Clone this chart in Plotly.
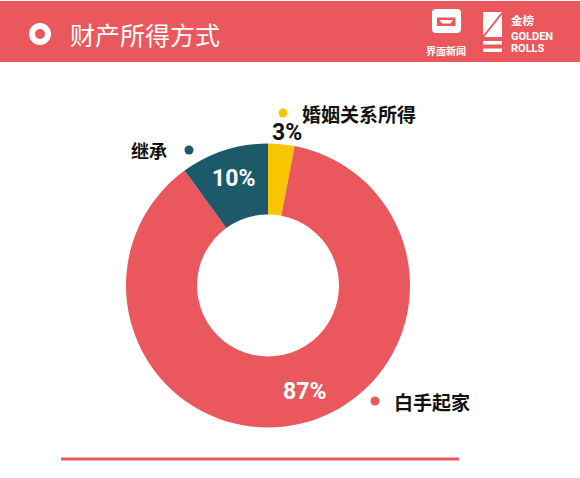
import math
import plotly.graph_objects as go

W, H = 580, 478

# ---- data ----
categories = ["婚姻关系所得", "白手起家", "继承"]
values = [3, 87, 10]
pct_labels = ["3%", "87%", "10%"]
colors = ["#F7C600", "#EA585D", "#1C5A6A"]
title = "财产所得方式"

RED = "#EA585D"

def px(x):
    return x / W

def py(y):
    return 1 - y / H

# pie geometry (pixels)
cx, cy, R = 268, 285.5, 142
hole = 0.5

fig = go.Figure()
fig.add_trace(go.Pie(
    labels=categories, values=values, sort=False, direction="clockwise",
    rotation=0, hole=hole, textinfo="none", hoverinfo="label+percent",
    marker=dict(colors=colors, line=dict(width=0)),
    domain=dict(x=[px(cx - R), px(cx + R)], y=[py(cy + R), py(cy - R)]),
    showlegend=False,
))

annotations = []
shapes = []

# percentage labels derived from slice mid-angles
total = sum(values)
start = 0.0
label_radius = [R + 12, (R * hole + R) / 2 + 2, (R * hole + R) / 2 + 6]
label_color = ["#111111", "white", "white"]
label_xshift = [5, 13, 0]
for i, v in enumerate(values):
    frac = v / total
    mid = (start + frac / 2) * 2 * math.pi
    start += frac
    r = label_radius[i]
    x = cx + r * math.sin(mid)
    y = cy - r * math.cos(mid)
    annotations.append(dict(
        x=px(x), y=py(y), xref="paper", yref="paper", showarrow=False,
        xshift=label_xshift[i],
        text="<b>%s</b>" % pct_labels[i],
        font=dict(family="Roboto, Arial, sans-serif", size=23, color=label_color[i]),
        xanchor="center", yanchor="middle",
    ))

# category labels with dots
cat_pos = [(283, 113, "left"), (375, 401, "left"), (189, 150, "right")]
for i, (dx, dy, side) in enumerate(cat_pos):
    shapes.append(dict(type="circle", xref="paper", yref="paper",
                       x0=px(dx - 4.5), x1=px(dx + 4.5), y0=py(dy + 4.5), y1=py(dy - 4.5),
                       fillcolor=colors[i], line=dict(width=0)))
    if side == "left":
        annotations.append(dict(x=px(dx + 17), y=py(dy), xref="paper", yref="paper",
                                showarrow=False, xanchor="left", yanchor="middle",
                                text="<b>%s</b>" % categories[i],
                                font=dict(family="Noto Sans CJK SC", size=19, color="#111111")))
    else:
        annotations.append(dict(x=px(dx - 20), y=py(dy), xref="paper", yref="paper",
                                showarrow=False, xanchor="right", yanchor="middle",
                                text="<b>%s</b>" % categories[i],
                                font=dict(family="Noto Sans CJK SC", size=18, color="#111111")))

# header band
shapes.append(dict(type="rect", xref="paper", yref="paper", x0=0, x1=1,
                   y0=py(62), y1=py(1), fillcolor=RED, line=dict(width=0), layer="below"))
# header ring icon
shapes.append(dict(type="circle", xref="paper", yref="paper",
                   x0=px(29), x1=px(51), y0=py(45), y1=py(23), fillcolor="white", line=dict(width=0)))
shapes.append(dict(type="circle", xref="paper", yref="paper",
                   x0=px(35), x1=px(45), y0=py(39), y1=py(29), fillcolor=RED, line=dict(width=0)))
annotations.append(dict(x=px(68), y=py(34), xref="paper", yref="paper", showarrow=False,
                        xanchor="left", yanchor="middle", text=title,
                        font=dict(family="Noto Sans CJK SC", size=25, color="white")))

# logo 1: 界面新闻
def rrect(x0, y0, x1, y1, r):
    return ("M %f %f L %f %f Q %f %f %f %f L %f %f Q %f %f %f %f "
            "L %f %f Q %f %f %f %f L %f %f Q %f %f %f %f Z") % (
        px(x0 + r), py(y0), px(x1 - r), py(y0), px(x1), py(y0), px(x1), py(y0 + r),
        px(x1), py(y1 - r), px(x1), py(y1), px(x1 - r), py(y1),
        px(x0 + r), py(y1), px(x0), py(y1), px(x0), py(y1 - r),
        px(x0), py(y0 + r), px(x0), py(y0), px(x0 + r), py(y0))

shapes.append(dict(type="path", xref="paper", yref="paper", path=rrect(432, 9, 461, 33, 4),
                   fillcolor="white", line=dict(width=0)))
# bow-tie frame
shapes.append(dict(type="path", xref="paper", yref="paper",
                   path="M %f %f L %f %f L %f %f L %f %f Z M %f %f L %f %f L %f %f L %f %f Z" % (
                       px(437), py(17.5), px(455.5), py(17.5), px(455.5), py(26), px(437), py(26),
                       px(439.5), py(20), px(453), py(20), px(450.5), py(23.5), px(442), py(23.5)),
                   fillcolor=RED, line=dict(width=0), fillrule="evenodd"))
annotations.append(dict(x=px(446), y=py(50), xref="paper", yref="paper", showarrow=False,
                        xanchor="center", yanchor="middle", text="<b>界面新闻</b>",
                        font=dict(family="Noto Sans CJK SC", size=10, color="white")))

# logo 2: 金榜 GOLDEN ROLLS
shapes.append(dict(type="rect", xref="paper", yref="paper", x0=px(483), x1=px(502),
                   y0=py(37), y1=py(12), fillcolor="white", line=dict(width=0)))
shapes.append(dict(type="line", xref="paper", yref="paper", x0=px(483), x1=px(502),
                   y0=py(37), y1=py(13), line=dict(color=RED, width=2)))
shapes.append(dict(type="rect", xref="paper", yref="paper", x0=px(483), x1=px(502),
                   y0=py(44.5), y1=py(41), fillcolor="white", line=dict(width=0)))
shapes.append(dict(type="rect", xref="paper", yref="paper", x0=px(483), x1=px(502),
                   y0=py(52), y1=py(48.5), fillcolor="white", line=dict(width=0)))
annotations.append(dict(x=px(509), y=py(20), xref="paper", yref="paper", showarrow=False,
                        xanchor="left", yanchor="middle", text="<b>金榜</b>",
                        font=dict(family="Noto Sans CJK SC", size=11.5, color="white")))
annotations.append(dict(x=px(509), y=py(36.5), xref="paper", yref="paper", showarrow=False,
                        xanchor="left", yanchor="middle", text="<b>GOLDEN</b>",
                        font=dict(family="Roboto", size=11, color="white")))
annotations.append(dict(x=px(509), y=py(48), xref="paper", yref="paper", showarrow=False,
                        xanchor="left", yanchor="middle", text="<b>ROLLS</b>",
                        font=dict(family="Roboto", size=11, color="white")))

# bottom rule
shapes.append(dict(type="line", xref="paper", yref="paper", x0=px(61), x1=px(459),
                   y0=py(459), y1=py(459), line=dict(color=RED, width=3)))

fig.update_layout(
    width=W, height=H, margin=dict(l=0, r=0, t=0, b=0),
    paper_bgcolor="white", plot_bgcolor="white",
    shapes=shapes, annotations=annotations,
)

fig.write_html("out.html")
